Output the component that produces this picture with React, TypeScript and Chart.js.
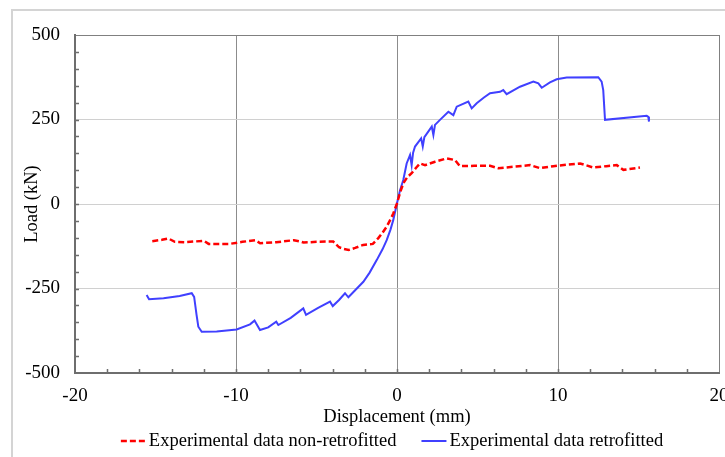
import React, { useEffect, useRef } from "react";
import { Chart, registerables } from "chart.js";

Chart.register(...registerables);

// ---- Data ----
const nonRetroX = [
  -15.2, -14.6, -14.2, -13.8, -13.2, -12.6, -12.0, -11.7, -11.0, -10.4, -9.6, -8.8, -8.5, -7.5, -6.4, -6.0,
  -5.8, -5.0, -4.3, -3.96, -3.6, -3.3, -3.0, -2.6, -2.1, -1.5, -1.16, -0.9, -0.64, -0.4, -0.23, 0, 0.2, 0.39,
  0.65, 0.91, 1.2, 1.43, 1.74, 2.36, 3.09, 3.6, 3.91, 4.8, 5.78, 6.29, 7.2, 8.26, 8.88, 9.71, 10.5, 11.37,
  12.19, 13.0, 13.65, 14.06, 15.09,
];
const nonRetroY = [
  -110, -106, -102, -112, -113, -111, -109, -118, -118, -118, -112, -107, -116, -113, -107, -111,
  -114, -112, -111, -111, -128, -133, -136, -130, -121, -118, -101, -85, -67, -45, -28, 2, 35, 61,
  80, 91, 108, 120, 115, 125, 135, 130, 112, 113, 113, 106, 110, 115, 106, 112, 116, 120,
  108, 112, 115, 101, 108,
];

const retroX = [
  -15.55, -15.4, -14.5, -13.5, -12.75, -12.6, -12.45, -12.34, -12.13, -11.2, -9.96, -9.13, -8.85, -8.51,
  -8.0, -7.5, -7.37, -6.6, -5.82, -5.65, -4.9, -4.16, -3.99, -3.6, -3.23, -3.02, -2.6, -2.09, -1.7, -1.26,
  -0.9, -0.64, -0.4, -0.23, 0, 0.19, 0.39, 0.6, 0.81, 0.91, 1.0, 1.12, 1.5, 1.6, 1.7, 2.16, 2.26, 2.36,
  2.67, 3.19, 3.5, 3.71, 4.43, 4.64, 4.95, 5.4, 5.78, 6.4, 6.6, 6.81, 7.64, 8.47, 8.78, 8.99, 9.5, 9.92,
  10.54, 12.5, 12.71, 12.81, 12.92, 15.51, 15.61, 15.65,
];
const retroY = [
  -269, -282, -279, -272, -264, -275, -328, -363, -378, -377, -371, -356, -345, -373,
  -365, -348, -358, -337, -309, -328, -307, -289, -302, -284, -264, -276, -255, -230, -203, -166,
  -134, -107, -75, -47, 2, 41, 71, 120, 145, 115, 152, 170, 194, 170, 198, 229, 204, 234,
  249, 273, 263, 288, 303, 283, 298, 315, 328, 332, 337, 325, 347, 362, 357, 344, 360, 369,
  374, 375, 362, 337, 249, 261, 258, 244,
];

const seriesLabels = ["Experimental data non-retrofitted", "Experimental data retrofitted"];
const xTicks = [-20, -10, 0, 10, 20];
const yTicks = [-500, -250, 0, 250, 500];
const xMinorStep = 2;
const yMinorStep = 50;
const xTitle = "Displacement (mm)";
const yTitle = "Load (kN)";

const SERIF = '"Liberation Serif", "Times New Roman", serif';
const AXIS_COLOR = "#6e6e6e";

const minorTicksPlugin = {
  id: "minorTicks",
  afterDraw(chart: any) {
    const { ctx, chartArea, scales } = chart;
    const xs = scales.x;
    const ys = scales.y;
    ctx.save();
    ctx.strokeStyle = AXIS_COLOR;
    ctx.lineWidth = 1.5;
    ctx.beginPath();
    for (let v = xs.min + xMinorStep; v < xs.max - 1e-9; v += xMinorStep) {
      const px = Math.round(xs.getPixelForValue(v)) + 0.5;
      ctx.moveTo(px, chartArea.bottom);
      ctx.lineTo(px, chartArea.bottom - 4);
    }
    for (let v = ys.min + yMinorStep; v < ys.max - 1e-9; v += yMinorStep) {
      const py = Math.round(ys.getPixelForValue(v)) + 0.5;
      ctx.moveTo(chartArea.left, py);
      ctx.lineTo(chartArea.left + 4, py);
    }
    ctx.stroke();
    ctx.restore();
  },
};

const legendPlugin = {
  id: "customLegend",
  afterDraw(chart: any) {
    const { ctx, chartArea } = chart;
    const font = `18.5px ${SERIF}`;
    const lineLen = 25;
    const gap = 3;
    const between = 25;
    ctx.save();
    ctx.font = font;
    const items = chart.data.datasets.map((d: any) => ({
      d,
      w: lineLen + gap + ctx.measureText(d.label).width,
    }));
    const total = items.reduce((s: number, it: any) => s + it.w, 0) + between * (items.length - 1);
    const cx = (chartArea.left + chartArea.right) / 2 - 5;
    let x = cx - total / 2;
    const y = chart.height - 16;
    for (const it of items) {
      ctx.beginPath();
      ctx.setLineDash(it.d.borderDash || []);
      ctx.strokeStyle = it.d.borderColor;
      ctx.lineWidth = it.d.borderWidth;
      ctx.moveTo(x, y);
      ctx.lineTo(x + lineLen, y);
      ctx.stroke();
      ctx.setLineDash([]);
      ctx.fillStyle = "#000";
      ctx.textBaseline = "middle";
      ctx.textAlign = "left";
      ctx.fillText(it.d.label, x + lineLen + gap, y);
      x += it.w + between;
    }
    ctx.restore();
  },
};

export default function App() {
  const canvasRef = useRef<HTMLCanvasElement | null>(null);

  useEffect(() => {
    if (!canvasRef.current) return;
    const red = nonRetroX.map((x, i) => ({ x, y: nonRetroY[i] }));
    const blue = retroX.map((x, i) => ({ x, y: retroY[i] }));
    const chart = new Chart(canvasRef.current, {
      type: "scatter",
      data: {
        datasets: [
          {
            label: seriesLabels[0],
            data: red,
            showLine: true,
            borderColor: "#ff0000",
            backgroundColor: "#ff0000",
            borderWidth: 2.5,
            borderDash: [6, 3],
            pointRadius: 0,
            tension: 0,
          },
          {
            label: seriesLabels[1],
            data: blue,
            showLine: true,
            borderColor: "#4040ff",
            backgroundColor: "#4040ff",
            borderWidth: 2,
            pointRadius: 0,
            tension: 0,
          },
        ],
      } as any,
      options: {
        animation: false,
        responsive: false,
        devicePixelRatio: 1,
        layout: { padding: { left: 20, right: 6, top: 35, bottom: 28 } },
        plugins: { legend: { display: false }, tooltip: { enabled: false } },
        scales: {
          x: {
            type: "linear",
            min: -20,
            max: 20,
            afterFit: (s: any) => {
              s.height = 56;
              s.paddingLeft = 0;
              s.paddingRight = 0;
            },
            afterBuildTicks: (s: any) => {
              s.ticks = xTicks.map((v) => ({ value: v }));
            },
            ticks: {
              font: { family: SERIF, size: 19 },
              color: "#000",
              padding: 12,
              maxRotation: 0,
              autoSkip: false,
            },
            grid: {
              drawTicks: false,
              color: (c: any) => {
                const v = c.tick && c.tick.value;
                if (v === -20) return "rgba(0,0,0,0)";
                if (v === 20) return "#808080";
                return "#8c8c8c";
              },
              lineWidth: 1,
            },
            border: { color: AXIS_COLOR, width: 2 },
            title: {
              display: true,
              text: xTitle,
              font: { family: SERIF, size: 18.5 },
              color: "#000",
              padding: { top: 0, bottom: 1 },
            },
          },
          y: {
            type: "linear",
            min: -500,
            max: 500,
            afterFit: (s: any) => {
              s.width = 55;
            },
            afterBuildTicks: (s: any) => {
              s.ticks = yTicks.map((v) => ({ value: v }));
            },
            ticks: {
              font: { family: SERIF, size: 19 },
              color: "#000",
              padding: 15,
              autoSkip: false,
            },
            grid: {
              drawTicks: false,
              color: (c: any) => {
                const v = c.tick && c.tick.value;
                if (v === -500) return "rgba(0,0,0,0)";
                if (v === 500) return "#808080";
                return "#d0d0d0";
              },
              lineWidth: 1,
            },
            border: { color: AXIS_COLOR, width: 2 },
            title: {
              display: true,
              text: yTitle,
              font: { family: SERIF, size: 18.5 },
              color: "#000",
              padding: { top: 1, bottom: 0 },
            },
          },
        },
      } as any,
      plugins: [minorTicksPlugin, legendPlugin],
    });
    return () => chart.destroy();
  }, []);

  return (
    <div
      style={{
        position: "fixed",
        left: 0,
        top: 0,
        width: 725,
        height: 457,
        overflow: "hidden",
        background: "#fff",
      }}
    >
      <div
        style={{
          position: "absolute",
          left: 11,
          top: 9,
          width: 800,
          height: 600,
          border: "2px solid #d4d4d4",
        }}
      />
      <canvas
        ref={canvasRef}
        width={725}
        height={457}
        style={{ position: "absolute", left: 0, top: 0, width: 725, height: 457 }}
      />
    </div>
  );
}
